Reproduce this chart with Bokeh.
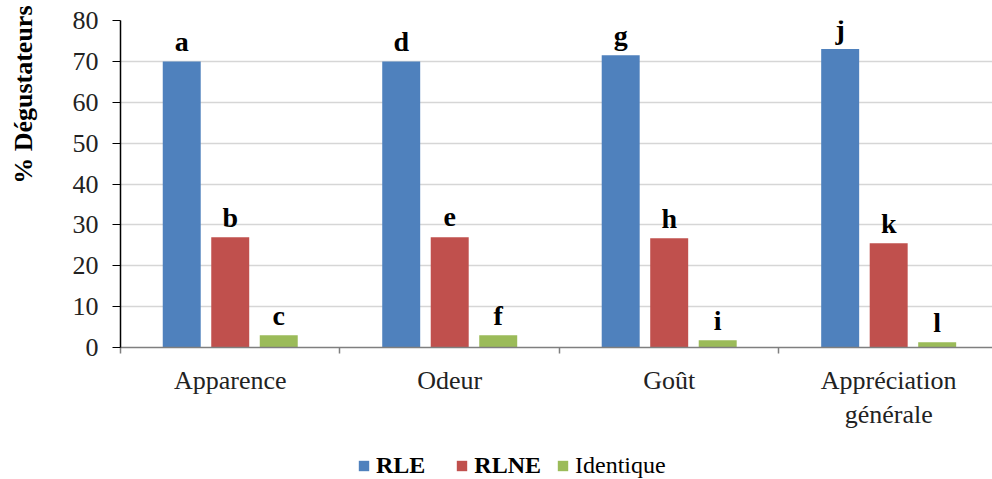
from bokeh.plotting import figure
from bokeh.layouts import column
from bokeh.models import ColumnDataSource, FixedTicker, Legend, LegendItem, Range1d, Title
from bokeh.embed import file_html
from bokeh.resources import INLINE
from bokeh.core.properties import value

# Sensory attributes and share of tasters (%) per preference
categories = ["Apparence", "Odeur", "Goût", "Appréciation\ngénérale"]
rle = [70, 70, 71.5, 73]
rlne = [27, 27, 26.7, 25.5]
identique = [3, 3, 1.8, 1.3]
letters_rle = ["a", "d", "g", "j"]
letters_rlne = ["b", "e", "h", "k"]
letters_identique = ["c", "f", "i", "l"]
y_ticks = [0, 10, 20, 30, 40, 50, 60, 70, 80]

SERIF = "Liberation Serif"
BLUE, RED, GREEN = "#4F81BD", "#C0504D", "#9BBB59"

n = len(categories)
centers = [i + 0.5 for i in range(n)]
offset = 0.221
bar_w = 0.173

p = figure(
    width=992, height=440,
    x_range=Range1d(0, 3.973), y_range=Range1d(0, 80),
    output_backend="svg", toolbar_location=None,
    min_border_left=120, min_border_right=0,
    min_border_top=20, min_border_bottom=93,
)
p.outline_line_color = None

series = [
    ("RLE", rle, letters_rle, -offset, BLUE),
    ("RLNE", rlne, letters_rlne, 0.0, RED),
    ("Identique", identique, letters_identique, offset, GREEN),
]

for name, vals, letters, dx, color in series:
    src = ColumnDataSource(dict(
        x=[c + dx for c in centers], top=vals, lab=letters,
    ))
    p.vbar(x="x", top="top", width=bar_w, bottom=0, source=src,
           fill_color=color, line_color=None)
    p.text(x="x", y="top", text="lab", source=src,
           text_font=value(SERIF), text_font_style="bold",
           text_font_size="28px", text_color="black",
           text_align="center", text_baseline="alphabetic", y_offset=-20)

# y axis
p.yaxis.ticker = FixedTicker(ticks=y_ticks)
p.yaxis.axis_line_color = "black"
p.yaxis.axis_line_width = 1.5
p.yaxis.major_tick_line_color = "black"
p.yaxis.major_tick_in = 0
p.yaxis.major_tick_out = 8
p.yaxis.minor_tick_line_color = None
p.yaxis.major_label_text_font = SERIF
p.yaxis.major_label_text_font_size = "26px"
p.yaxis.major_label_text_color = "#222222"
p.yaxis.major_label_standoff = 14
# blank axis label only widens the gap between tick labels and the title
p.yaxis.axis_label = " "
p.yaxis.axis_label_text_font_size = "10px"
p.yaxis.axis_label_standoff = 11

# y-axis title, set towards the top of the axis
ytitle = Title(text="% Dégustateurs", align="right", offset=-15, standoff=13,
               text_font=SERIF, text_font_style="bold", text_font_size="26px",
               text_color="black")
p.add_layout(ytitle, "left")

# x axis: labels at group centres, small ticks between groups
p.xaxis.ticker = FixedTicker(ticks=centers, minor_ticks=[0, 1, 2, 3])
p.xaxis.major_label_overrides = {c: lab for c, lab in zip(centers, categories)}
p.xaxis.axis_line_color = "#7f7f7f"
p.xaxis.axis_line_width = 1.5
p.xaxis.major_tick_line_color = None
p.xaxis.minor_tick_line_color = "#7f7f7f"
p.xaxis.minor_tick_line_width = 1.5
p.xaxis.minor_tick_in = 0
p.xaxis.minor_tick_out = 6
p.xaxis.major_label_text_font = SERIF
p.xaxis.major_label_text_font_size = "26px"
p.xaxis.major_label_text_color = "#222222"
p.xaxis.major_label_standoff = 12

p.xgrid.grid_line_color = None
p.ygrid.ticker = FixedTicker(ticks=y_ticks)
p.ygrid.grid_line_color = "#d6d6d6"
p.ygrid.grid_line_width = 1.5

# legend strip below the chart: two bold entries and one regular
lg = figure(
    width=992, height=39, x_range=Range1d(0, 1), y_range=Range1d(0, 1),
    x_axis_type=None, y_axis_type=None,
    output_backend="svg", toolbar_location=None,
    min_border_left=0, min_border_right=0, min_border_top=0, min_border_bottom=0,
)
lg.outline_line_color = None
lg.grid.grid_line_color = None

# swatch renderers kept outside the visible range; they only feed the legend
swatches = {}
for name, _, _, _, color in series:
    swatches[name] = lg.vbar(x=[-5], top=[-5], bottom=[-6], width=0.1,
                             fill_color=color, line_color=None)

leg1 = Legend(items=[LegendItem(label="RLE", renderers=[swatches["RLE"]]),
                     LegendItem(label="RLNE", renderers=[swatches["RLNE"]])],
              location=(237, 0))
leg2 = Legend(items=[LegendItem(label="Identique", renderers=[swatches["Identique"]])],
              location=(436, 0))
for leg, style in ((leg1, "bold"), (leg2, "normal")):
    leg.orientation = "horizontal"
    leg.border_line_color = None
    leg.background_fill_alpha = 0
    leg.padding = 0
    leg.margin = 0
    leg.glyph_width = 13
    leg.glyph_height = 13
    leg.label_standoff = 6
    leg.spacing = 30
    leg.label_text_font = SERIF
    leg.label_text_font_style = style
    leg.label_text_font_size = "24px"
    leg.label_text_color = "black"
    lg.add_layout(leg)

layout = column(p, lg, spacing=0)
open("out.html", "w").write(file_html(layout, INLINE))
